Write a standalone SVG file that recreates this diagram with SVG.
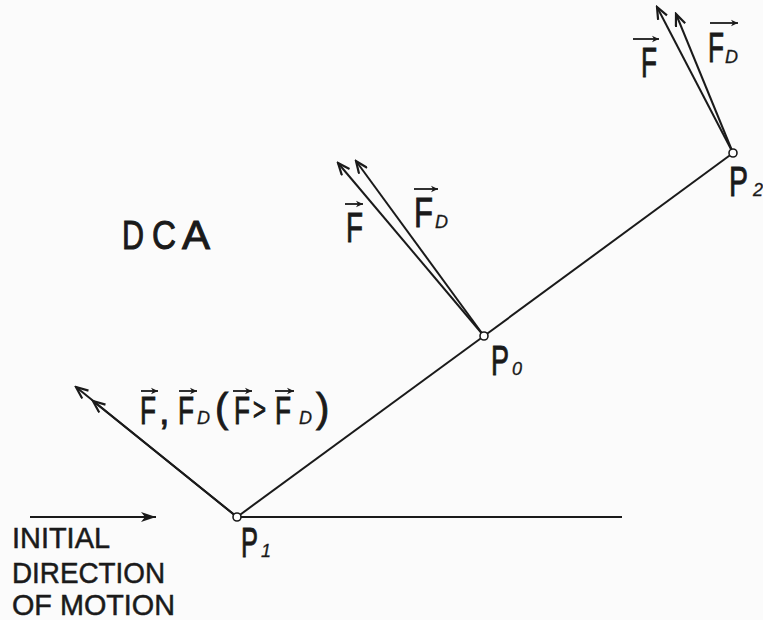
<svg xmlns="http://www.w3.org/2000/svg" width="763" height="620" viewBox="0 0 763 620">
<style>
.ln{stroke:#1a1a1a;stroke-width:2;fill:none}
.vec{stroke:#1a1a1a;stroke-width:1.8;fill:none;marker-end:url(#vh)}
.t{font-family:"Liberation Sans","DejaVu Sans",sans-serif;fill:#1a1a1a;stroke:#1a1a1a;stroke-width:0.9}
.sub{font-family:"Liberation Sans","DejaVu Sans",sans-serif;font-style:italic;fill:#1a1a1a;stroke:#1a1a1a;stroke-width:0.3}
.lg{font-family:"Liberation Sans","DejaVu Sans",sans-serif;fill:#1a1a1a;stroke:#1a1a1a;stroke-width:0.5}
.pt{fill:#fff;stroke:#1a1a1a;stroke-width:1.6}
</style>
<defs>
<marker id="barb" viewBox="-13 -6 15 12" refX="0" refY="0" markerWidth="15" markerHeight="12" markerUnits="userSpaceOnUse" orient="auto">
<path d="M-12,-5 L0,0 L-12,5" fill="none" stroke="#1a1a1a" stroke-width="2.2"/>
</marker>
<marker id="vh" viewBox="-8 -4 9 8" refX="0" refY="0" markerWidth="9" markerHeight="8" markerUnits="userSpaceOnUse" orient="auto">
<path d="M0,0 L-7,-3.2 L-5,0 L-7,3.2 Z" fill="#1a1a1a"/>
</marker>
<marker id="fh" viewBox="-16 -6 17 12" refX="0" refY="0" markerWidth="17" markerHeight="12" markerUnits="userSpaceOnUse" orient="auto">
<path d="M0,0 L-15,-5 L-11,0 L-15,5 Z" fill="#1a1a1a"/>
</marker>
</defs>
<rect width="763" height="620" fill="#fbfbfb"/>

<g id="connectors">
<line class="ln" x1="237" y1="517" x2="622" y2="517"/>
<line class="ln" x1="237" y1="517" x2="484" y2="336"/>
<line class="ln" x1="484" y1="336" x2="733" y2="153"/>
<line class="ln" x1="237" y1="517" x2="76" y2="387" marker-end="url(#barb)"/>
<line class="ln" x1="237" y1="517" x2="93" y2="401" marker-end="url(#barb)"/>
<line class="ln" x1="484" y1="336" x2="338" y2="163" marker-end="url(#barb)"/>
<line class="ln" x1="484" y1="336" x2="356" y2="161" marker-end="url(#barb)"/>
<line class="ln" x1="733" y1="153" x2="657" y2="7" marker-end="url(#barb)"/>
<line class="ln" x1="733" y1="153" x2="676" y2="14" marker-end="url(#barb)"/>
<line class="ln" x1="30" y1="517" x2="156" y2="517" marker-end="url(#fh)"/>
</g>

<g id="P1">
<circle class="pt" cx="237" cy="517" r="4"/>
<text class="t" x="241" y="557" font-size="42" textLength="17" lengthAdjust="spacingAndGlyphs">P</text>
<text class="sub" x="261" y="557" font-size="18">1</text>
</g>
<g id="P0">
<circle class="pt" cx="484" cy="336" r="4"/>
<text class="t" x="491" y="375" font-size="42" textLength="18" lengthAdjust="spacingAndGlyphs">P</text>
<text class="sub" x="512" y="375" font-size="18">0</text>
</g>
<g id="P2">
<circle class="pt" cx="733" cy="153" r="4"/>
<text class="t" x="729" y="196" font-size="42" textLength="19" lengthAdjust="spacingAndGlyphs">P</text>
<text class="sub" x="753" y="196" font-size="18">2</text>
</g>

<g id="label-P1">
<text class="t" x="140" y="424" font-size="38" textLength="16" lengthAdjust="spacingAndGlyphs">F</text>
<text class="t" x="159" y="424" font-size="38">,</text>
<text class="t" x="178" y="424" font-size="38" textLength="16" lengthAdjust="spacingAndGlyphs">F</text>
<text class="sub" x="197" y="424" font-size="18">D</text>
<text class="t" x="215" y="422" font-size="40">(</text>
<text class="t" x="234" y="424" font-size="38" textLength="16" lengthAdjust="spacingAndGlyphs">F</text>
<text class="t" x="253" y="420" font-size="32" textLength="13" lengthAdjust="spacingAndGlyphs">&gt;</text>
<text class="t" x="275" y="424" font-size="38" textLength="16" lengthAdjust="spacingAndGlyphs">F</text>
<text class="sub" x="299" y="424" font-size="18">D</text>
<text class="t" x="316" y="422" font-size="40">)</text>
<line class="vec" x1="141" y1="391" x2="158" y2="391"/>
<line class="vec" x1="179" y1="391" x2="197" y2="391"/>
<line class="vec" x1="233" y1="391" x2="252" y2="391"/>
<line class="vec" x1="275" y1="391" x2="294" y2="391"/>
</g>

<g id="label-P0">
<text class="t" x="346" y="242" font-size="42" textLength="17" lengthAdjust="spacingAndGlyphs">F</text>
<line class="vec" x1="345" y1="204" x2="363" y2="204"/>
<text class="t" x="414" y="227" font-size="42" textLength="19" lengthAdjust="spacingAndGlyphs">F</text>
<text class="sub" x="435" y="228" font-size="18">D</text>
<line class="vec" x1="414" y1="189" x2="438" y2="189"/>
</g>

<g id="label-P2">
<text class="t" x="641" y="77" font-size="42" textLength="16" lengthAdjust="spacingAndGlyphs">F</text>
<line class="vec" x1="633" y1="39" x2="659" y2="39"/>
<text class="t" x="708" y="62" font-size="42" textLength="16" lengthAdjust="spacingAndGlyphs">F</text>
<text class="sub" x="725" y="63" font-size="18">D</text>
<line class="vec" x1="710" y1="23" x2="738" y2="23"/>
</g>

<g id="DCA">
<text class="t" x="122" y="249" font-size="40" style="stroke-width:1"><tspan x="122" textLength="22" lengthAdjust="spacingAndGlyphs">D</tspan><tspan x="152" textLength="24" lengthAdjust="spacingAndGlyphs">C</tspan><tspan x="182" textLength="28" lengthAdjust="spacingAndGlyphs">A</tspan></text>
</g>

<g id="legend">
<text class="lg" x="12" y="548" font-size="30" textLength="98" lengthAdjust="spacingAndGlyphs">INITIAL</text>
<text class="lg" x="12" y="583" font-size="30" textLength="153" lengthAdjust="spacingAndGlyphs">DIRECTION</text>
<text class="lg" x="12" y="615" font-size="29" textLength="163" lengthAdjust="spacingAndGlyphs">OF MOTION</text>
</g>
</svg>
